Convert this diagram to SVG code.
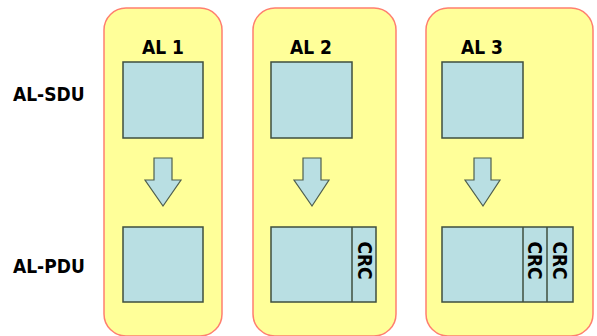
<svg xmlns="http://www.w3.org/2000/svg" width="597" height="336" viewBox="0 0 597 336">
  <style>
    .panel { fill: #ffff99; stroke: #ff7f6f; stroke-width: 1.5; }
    .box { fill: #b9dfe3; stroke: #3f4f3f; stroke-width: 1.5; }
    .arrow { fill: #b9dfe3; stroke: #4f5f4f; stroke-width: 1.2; stroke-linejoin: miter; }
    .lbl { font-family: "DejaVu Sans Condensed", "DejaVu Sans", sans-serif; font-weight: bold; font-size: 19px; fill: #000; }
    .mid { text-anchor: middle; }
    .crc { text-anchor: middle; dominant-baseline: central; }
  </style>
  <rect width="597" height="336" fill="#ffffff"/>

  <!-- row labels -->
  <g id="label-sdu"><text class="lbl" x="13" y="101">AL-SDU</text></g>
  <g id="label-pdu"><text class="lbl" x="13" y="273">AL-PDU</text></g>

  <!-- AL 1 -->
  <g id="al1">
    <rect class="panel" x="104" y="8" width="118" height="328" rx="22"/>
    <text class="lbl mid" x="163" y="54">AL 1</text>
    <rect id="al1-sdu" class="box" x="123" y="62" width="80" height="76"/>
    <rect id="al1-pdu" class="box" x="123" y="227" width="80" height="75"/>
  </g>

  <!-- AL 2 -->
  <g id="al2">
    <rect class="panel" x="253" y="8" width="143" height="328" rx="22"/>
    <text class="lbl mid" x="311" y="54">AL 2</text>
    <rect id="al2-sdu" class="box" x="271" y="62" width="81" height="76"/>
    <rect id="al2-pdu" class="box" x="271" y="227" width="105" height="75"/>
    <line class="box" x1="352" y1="227" x2="352" y2="302"/>
    <text class="lbl crc" transform="translate(364.5 260.5) rotate(90)">CRC</text>
  </g>

  <!-- AL 3 -->
  <g id="al3">
    <rect class="panel" x="426" y="8" width="167" height="328" rx="22"/>
    <text class="lbl mid" x="482" y="54">AL 3</text>
    <rect id="al3-sdu" class="box" x="442" y="62" width="81" height="76"/>
    <rect id="al3-pdu" class="box" x="442" y="227" width="131" height="75"/>
    <line class="box" x1="523" y1="227" x2="523" y2="302"/>
    <line class="box" x1="547" y1="227" x2="547" y2="302"/>
    <text class="lbl crc" transform="translate(535 260.5) rotate(90)">CRC</text>
    <text class="lbl crc" transform="translate(560 260.5) rotate(90)">CRC</text>
  </g>

  <!-- block arrows: SDU to PDU -->
  <g id="connectors">
    <polygon class="arrow" points="154,158 172,158 172,180 181,180 163,206 145,180 154,180"/>
    <polygon class="arrow" points="303,158 321,158 321,180 329,180 312,206 294,180 303,180"/>
    <polygon class="arrow" points="474,158 491,158 491,180 500,180 483,206 465,180 474,180"/>
  </g>
</svg>
